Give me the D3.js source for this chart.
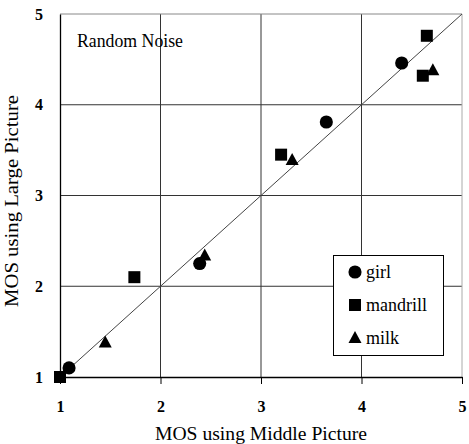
<!DOCTYPE html>
<html>
<head>
<meta charset="utf-8">
<script src="https://cdn.jsdelivr.net/npm/d3@7"></script>
<style>
  html, body { margin: 0; padding: 0; background: #fff; }
  svg { display: block; font-family: "Liberation Serif", "Times New Roman", serif; }
</style>
</head>
<body>
<svg id="chart" width="469" height="444"></svg>
<script>
// MOS scores for each test image: [middle picture, large picture]
const girl     = [[1.09, 1.10], [2.39, 2.25], [3.65, 3.81], [4.40, 4.46]];
const mandrill = [[1.00, 1.00], [1.74, 2.10], [3.20, 3.45], [4.61, 4.32], [4.65, 4.76]];
const milk     = [[1.45, 1.38], [2.44, 2.34], [3.31, 3.39], [4.71, 4.38]];

const seriesNames = ["girl", "mandrill", "milk"];
const seriesShapes = ["circle", "square", "triangle"];
const xTicks = [1, 2, 3, 4, 5];
const yTicks = [1, 2, 3, 4, 5];
const diagonal = [[1, 1], [5, 5]];

const serif = '"Liberation Serif", "Times New Roman", serif';
const svg = d3.select("#chart");
const x = d3.scaleLinear().domain([1, 5]).range([60, 462]);
const y = d3.scaleLinear().domain([1, 5]).range([377, 14]);

// grid lines
const grid = svg.append("g");
grid.selectAll(".gx").data(xTicks.slice(1, -1)).join("line")
  .attr("x1", d => x(d)).attr("x2", d => x(d))
  .attr("y1", y(5)).attr("y2", y(1))
  .attr("stroke", "#333").attr("stroke-width", 1);
grid.selectAll(".gy").data(yTicks.slice(1, -1)).join("line")
  .attr("x1", x(1)).attr("x2", x(5))
  .attr("y1", d => y(d)).attr("y2", d => y(d))
  .attr("stroke", "#333").attr("stroke-width", 1);

// top and right frame
svg.append("line").attr("x1", x(1)).attr("x2", x(5)).attr("y1", y(5)).attr("y2", y(5))
  .attr("stroke", "#888").attr("stroke-width", 1);
svg.append("line").attr("x1", x(5)).attr("x2", x(5)).attr("y1", y(5)).attr("y2", y(1))
  .attr("stroke", "#aaa").attr("stroke-width", 1);

// identity line
svg.append("path")
  .attr("d", d3.line().x(d => x(d[0])).y(d => y(d[1]))(diagonal))
  .attr("stroke", "#444").attr("stroke-width", 1).attr("fill", "none");

// axes
const xAxis = svg.append("g").attr("transform", `translate(0,${y(1)})`)
  .call(d3.axisBottom(x).tickValues(xTicks).tickFormat(d3.format("d"))
    .tickSizeInner(7).tickSizeOuter(0).tickPadding(17));
const yAxis = svg.append("g").attr("transform", `translate(${x(1)},0)`)
  .call(d3.axisLeft(y).tickValues(yTicks).tickFormat(d3.format("d"))
    .tickSizeInner(0).tickSizeOuter(0).tickPadding(17));
[xAxis, yAxis].forEach(a => {
  a.attr("font-family", serif).attr("font-size", 16);
  a.select(".domain").attr("stroke", "#000").attr("stroke-width", 1.3);
  a.selectAll(".tick line").attr("stroke", "#000");
  a.selectAll(".tick text").attr("fill", "#000")
    .attr("font-family", serif).attr("font-weight", "bold");
});

// markers
const symbolSize = { circle: 135, square: 144 };
function symbolPath(shape) {
  if (shape === "circle") return d3.symbol(d3.symbolCircle, symbolSize.circle)();
  if (shape === "square") return d3.symbol(d3.symbolSquare, symbolSize.square)();
  return "M0,-7L6.5,5L-6.5,5Z";
}

const allSeries = [girl, mandrill, milk];
allSeries.forEach((data, i) => {
  svg.append("g").selectAll("path").data(data).join("path")
    .attr("transform", d => `translate(${x(d[0])},${y(d[1])})`)
    .attr("d", symbolPath(seriesShapes[i]))
    .attr("fill", "#000");
});

// annotation
svg.append("text").attr("x", 77).attr("y", 47)
  .attr("font-family", serif).attr("font-size", 18).attr("fill", "#000")
  .attr("textLength", 106).attr("lengthAdjust", "spacingAndGlyphs")
  .text("Random Noise");

// axis titles
svg.append("text").attr("x", 261).attr("y", 440).attr("text-anchor", "middle")
  .attr("font-family", serif).attr("font-size", 18).attr("fill", "#000")
  .attr("textLength", 212).attr("lengthAdjust", "spacingAndGlyphs")
  .text("MOS using Middle Picture");
svg.append("text").attr("transform", "translate(18,201) rotate(-90)")
  .attr("text-anchor", "middle")
  .attr("font-family", serif).attr("font-size", 18).attr("fill", "#000")
  .attr("textLength", 212).attr("lengthAdjust", "spacingAndGlyphs")
  .text("MOS using Large Picture");

// legend
const legend = svg.append("g");
legend.append("rect").attr("x", 333.5).attr("y", 255.5).attr("width", 110).attr("height", 100)
  .attr("fill", "#fff").attr("stroke", "#000").attr("stroke-width", 1);
const items = legend.selectAll(".item").data(seriesNames).join("g")
  .attr("transform", (d, i) => `translate(355,${272 + i * 33})`);
items.append("path").attr("d", (d, i) => symbolPath(seriesShapes[i])).attr("fill", "#000");
items.append("text").attr("x", 11).attr("y", 6)
  .attr("font-family", serif).attr("font-size", 18).attr("fill", "#000")
  .text(d => d);
</script>
</body>
</html>
